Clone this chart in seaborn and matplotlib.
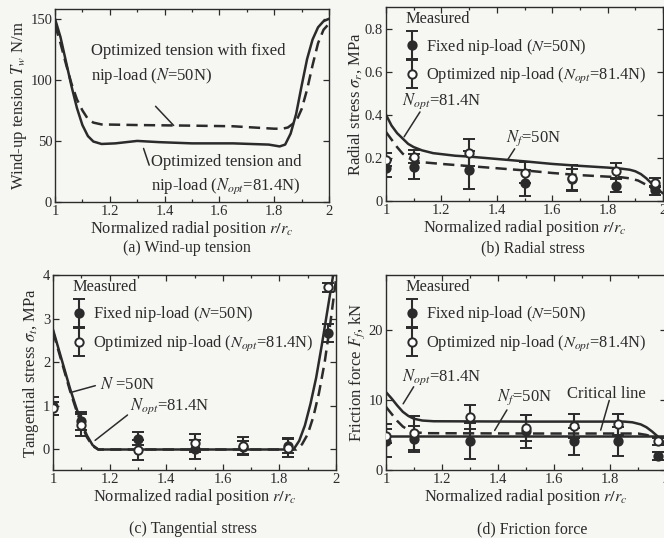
import numpy as np
import pandas as pd
import matplotlib
matplotlib.use("Agg")
import matplotlib.pyplot as plt
import seaborn as sns
from matplotlib.container import ErrorbarContainer
from matplotlib.legend_handler import HandlerErrorbar

# ---------------- data ----------------
# (a) wind-up tension, N/m
a_x_opt = [1.00, 1.02, 1.04, 1.06, 1.08, 1.10, 1.12, 1.14, 1.17, 1.22, 1.30, 1.38, 1.50,
           1.65, 1.78, 1.82, 1.84, 1.86, 1.88, 1.90, 1.92, 1.94, 1.96, 1.98, 2.00]
a_y_opt = [150, 135, 115, 95, 77, 63, 54, 49.5, 47.5, 48, 50, 49, 48,
           48, 47, 45.5, 47, 56, 72, 95, 117, 133, 143, 148, 150]
a_x_fix = [1.00, 1.02, 1.04, 1.06, 1.08, 1.10, 1.12, 1.14, 1.17, 1.30, 1.50, 1.65, 1.80,
           1.83, 1.85, 1.88, 1.90, 1.92, 1.94, 1.96, 1.98, 2.00]
a_y_fix = [145, 130, 113, 97, 84, 75, 68, 65, 63.5, 63, 62.5, 62, 60,
           60, 61, 66, 76, 92, 112, 130, 141, 146]

# (b) radial stress, MPa
b_x_opt = [1.00, 1.02, 1.04, 1.06, 1.08, 1.10, 1.13, 1.17, 1.25, 1.30, 1.40, 1.50, 1.60,
           1.70, 1.80, 1.85, 1.88, 1.90, 1.92, 1.94, 1.96, 1.98, 2.00]
b_y_opt = [0.40, 0.35, 0.315, 0.29, 0.265, 0.25, 0.235, 0.222, 0.21, 0.206, 0.195, 0.184, 0.172,
           0.163, 0.155, 0.150, 0.145, 0.138, 0.125, 0.105, 0.08, 0.055, 0.035]
b_x_fix = [1.00, 1.02, 1.04, 1.06, 1.08, 1.10, 1.13, 1.20, 1.30, 1.40, 1.50, 1.60, 1.70,
           1.80, 1.85, 1.88, 1.91, 1.94, 1.97, 2.00]
b_y_fix = [0.32, 0.285, 0.25, 0.22, 0.20, 0.19, 0.18, 0.172, 0.162, 0.152, 0.142, 0.13, 0.12,
           0.113, 0.11, 0.105, 0.095, 0.075, 0.05, 0.03]

# (c) tangential stress, MPa
c_x_opt = [1.00, 1.02, 1.04, 1.06, 1.08, 1.10, 1.12, 1.14, 1.16, 1.85, 1.87, 1.89, 1.91,
           1.93, 1.95, 1.97, 1.99, 2.00]
c_y_opt = [2.75, 2.3, 1.85, 1.4, 1.0, 0.62, 0.32, 0.1, 0.0, 0.0, 0.2, 0.55, 1.05,
           1.65, 2.4, 3.2, 4.0, 4.4]
c_x_fix = [1.00, 1.02, 1.04, 1.06, 1.08, 1.10, 1.12, 1.14, 1.16, 1.86, 1.88, 1.90, 1.92,
           1.94, 1.96, 1.98, 2.00]
c_y_fix = [2.7, 2.25, 1.8, 1.35, 0.95, 0.58, 0.28, 0.08, 0.0, 0.0, 0.12, 0.35, 0.75,
           1.3, 2.0, 2.9, 3.9]

# (d) friction force, kN
d_x_opt = [1.00, 1.02, 1.04, 1.06, 1.08, 1.10, 1.13, 1.17, 1.50, 1.85, 1.88, 1.91, 1.93,
           1.95, 1.97, 1.99, 2.00]
d_y_opt = [11.1, 10.2, 9.2, 8.3, 7.7, 7.3, 7.05, 6.95, 6.9, 6.9, 6.8, 6.5, 6.1,
           5.5, 4.8, 4.0, 3.6]
d_x_fix = [1.00, 1.02, 1.04, 1.06, 1.08, 1.10, 1.14, 1.50, 1.90, 1.93, 1.96, 1.98, 2.00]
d_y_fix = [9.0, 8.0, 7.0, 6.2, 5.7, 5.4, 5.25, 5.2, 5.2, 5.0, 4.6, 4.2, 3.8]
critical_force = 4.9

# measured points (same radial positions in b, c, d)
meas_r = [1.0, 1.1, 1.3, 1.5, 1.67, 1.83, 1.97]
b_fix_mean = [0.152, 0.16, 0.144, 0.082, 0.10, 0.07, 0.05]
b_fix_err = [0.04, 0.06, 0.09, 0.06, 0.05, 0.03, 0.02]
b_opt_mean = [0.191, 0.206, 0.225, 0.132, 0.106, 0.141, 0.085]
b_opt_err = [0.03, 0.03, 0.062, 0.05, 0.06, 0.035, 0.02]
c_fix_mean = [1.0, 0.65, 0.25, 0.0, 0.05, 0.08, 2.67]
c_fix_err = [0.2, 0.2, 0.15, 0.22, 0.15, 0.15, 0.2]
c_opt_mean = [0.94, 0.56, -0.02, 0.15, 0.08, 0.04, 3.72]
c_opt_err = [0.15, 0.25, 0.23, 0.2, 0.2, 0.22, 0.1]
d_fix_mean = [4.2, 4.4, 4.1, 5.5, 4.1, 4.1, 2.0]
d_fix_err = [2.4, 1.9, 2.6, 2.4, 1.9, 2.1, 0.6]
d_opt_mean = [4.9, 5.3, 7.5, 6.0, 6.3, 6.5, 4.1]
d_opt_err = [1.0, 2.4, 1.7, 1.8, 1.7, 1.5, 0.5]

x_ticks = [1, 1.2, 1.4, 1.6, 1.8, 2]
x_ticklabels = ["1", "1.2", "1.4", "1.6", "1.8", "2"]

# ---------------- style ----------------
sns.set_theme(style="ticks")
INK = "#2b2b2b"
BG = "#f6f6f3"
plt.rcParams.update({
    "font.family": ["Liberation Serif", "DejaVu Serif"],
    "mathtext.fontset": "stix",
    "text.color": INK,
    "axes.labelcolor": INK,
    "axes.edgecolor": INK,
    "xtick.color": INK,
    "ytick.color": INK,
    "axes.linewidth": 1.0,
    "axes.facecolor": BG,
    "figure.facecolor": BG,
})

W, H = 664, 538
fig = plt.figure(figsize=(W / 100, H / 100), dpi=100)
ANN_FS = 12
LEG_FS = 11.8


def px_axes(l, t, r, b):
    return fig.add_axes([l / W, 1 - b / H, (r - l) / W, (b - t) / H])


def style_axes(ax, ylim, yticks, yticklabels):
    ax.set_xlim(1, 2)
    ax.set_ylim(*ylim)
    ax.set_xticks(x_ticks)
    ax.set_xticklabels(x_ticklabels)
    ax.set_xticks(np.arange(1.1, 2.0, 0.2), minor=True)
    ax.set_yticks(yticks)
    ax.set_yticklabels(yticklabels)
    ax.tick_params(which="both", direction="in", top=True, right=True,
                   labelsize=10.5, pad=2, width=0.9)
    ax.tick_params(which="major", length=4)
    ax.tick_params(which="minor", length=2.5)
    ax.set_xlabel(r"Normalized radial position $r/r_c$", fontsize=11.8, labelpad=1)
    for s in ax.spines.values():
        s.set_linewidth(1.0)


def curves(ax, xo, yo, xf, yf):
    df = pd.concat([
        pd.DataFrame({"r": xo, "v": yo, "case": "opt"}),
        pd.DataFrame({"r": xf, "v": yf, "case": "fixed"}),
    ])
    sns.lineplot(data=df, x="r", y="v", style="case", style_order=["opt", "fixed"],
                 dashes={"opt": "", "fixed": (4.5, 2.5)}, color=INK, linewidth=1.8,
                 legend=False, ax=ax, estimator=None, sort=False)
    ax.set_xlabel("")
    ax.set_ylabel("")


def measured(ax, fix_m, fix_e, opt_m, opt_e):
    kw = dict(fmt="o", ms=6, ecolor=INK, elinewidth=1.5, capsize=4.5,
              capthick=1.5, mec=INK, mew=1.4, zorder=4)
    eb_f = ax.errorbar(meas_r, fix_m, yerr=fix_e, mfc=INK, **kw)
    eb_o = ax.errorbar(meas_r, opt_m, yerr=opt_e, mfc="white", **kw)
    ax.legend([eb_f, eb_o],
              [r"Fixed nip-load ($N$=50N)", r"Optimized nip-load ($N_{opt}$=81.4N)"],
              title="Measured", loc="upper left", bbox_to_anchor=(0.035, 1.03),
              frameon=False, alignment="left", fontsize=LEG_FS, title_fontsize=LEG_FS,
              handlelength=0.8, handletextpad=0.45, labelspacing=0.58,
              borderaxespad=0.2,
              handler_map={ErrorbarContainer: HandlerErrorbar(yerr_size=0.85)})


def leader(ax, text, xy_text, xy_from, xy_to, fs=ANN_FS, ha="left"):
    ax.text(*xy_text, text, fontsize=fs, ha=ha, va="center", color=INK)
    ax.annotate("", xy=xy_to, xytext=xy_from,
                arrowprops=dict(arrowstyle="-", color=INK, lw=1.1))


# ---------------- (a) ----------------
ax_a = px_axes(55, 9, 329, 202)
curves(ax_a, a_x_opt, a_y_opt, a_x_fix, a_y_fix)
style_axes(ax_a, (0, 158), [0, 50, 100, 150], ["0", "50", "100", "150"])
ax_a.set_ylabel(r"Wind-up tension $T_w$ N/m", fontsize=12, labelpad=1)
ax_a.text(1.13, 130, "Optimized tension with fixed\nnip-load ($N$=50N)",
          fontsize=ANN_FS, va="top", linespacing=1.45)
ax_a.annotate("", xy=(1.44, 61), xytext=(1.36, 80),
              arrowprops=dict(arrowstyle="-", color=INK, lw=1.1))
ax_a.text(1.352, 39, "Optimized tension and\nnip-load ($N_{opt}$=81.4N)",
          fontsize=ANN_FS, va="top", linespacing=1.45)
ax_a.annotate("", xy=(1.32, 46), xytext=(1.347, 28),
              arrowprops=dict(arrowstyle="-", color=INK, lw=1.1))

# ---------------- (b) ----------------
ax_b = px_axes(386, 7, 663, 201)
curves(ax_b, b_x_opt, b_y_opt, b_x_fix, b_y_fix)
measured(ax_b, b_fix_mean, b_fix_err, b_opt_mean, b_opt_err)
style_axes(ax_b, (0, 0.9), [0, 0.2, 0.4, 0.6, 0.8], ["0", "0.2", "0.4", "0.6", "0.8"])
ax_b.set_ylabel(r"Radial stress $\sigma_r$, MPa", fontsize=12, labelpad=1)
leader(ax_b, r"$N_{opt}$=81.4N", (1.057, 0.465), (1.128, 0.424), (1.06, 0.287))
leader(ax_b, r"$N_f$=50N", (1.435, 0.292), (1.47, 0.253), (1.435, 0.183))

# ---------------- (c) ----------------
ax_c = px_axes(53, 275, 336, 470)
curves(ax_c, c_x_opt, c_y_opt, c_x_fix, c_y_fix)
measured(ax_c, c_fix_mean, c_fix_err, c_opt_mean, c_opt_err)
style_axes(ax_c, (-0.47, 4.0), [0, 1, 2, 3, 4], ["0", "1", "2", "3", "4"])
ax_c.set_ylabel(r"Tangential stress $\sigma_t$, MPa", fontsize=12, labelpad=1)
leader(ax_c, r"$N$ =50N", (1.165, 1.48), (1.159, 1.48), (1.053, 1.29))
leader(ax_c, r"$N_{opt}$=81.4N", (1.271, 1.0), (1.271, 0.83), (1.141, 0.17))

# ---------------- (d) ----------------
ax_d = px_axes(386, 275, 666, 470)
curves(ax_d, d_x_opt, d_y_opt, d_x_fix, d_y_fix)
ax_d.axhline(critical_force, color=INK, lw=1.8, zorder=2)
measured(ax_d, d_fix_mean, d_fix_err, d_opt_mean, d_opt_err)
style_axes(ax_d, (0, 27.8), [0, 10, 20], ["0", "10", "20"])
ax_d.set_ylabel(r"Friction force $F_f$, kN", fontsize=12, labelpad=1)
leader(ax_d, r"$N_{opt}$=81.4N", (1.056, 13.3), (1.104, 12.2), (1.056, 9.1))
leader(ax_d, r"$N_f$=50N", (1.395, 10.4), (1.437, 8.9), (1.383, 5.3))
leader(ax_d, "Critical line", (1.645, 10.9), (1.80, 10.3), (1.764, 5.3))

# ---------------- captions ----------------
for x, y, s in [(187, 248, "(a) Wind-up tension"), (533, 248, "(b) Radial stress"),
                (193, 529, "(c) Tangential stress"), (532, 529, "(d) Friction force")]:
    fig.text(x / W, 1 - y / H, s, ha="center", va="center", fontsize=11.5, color=INK)

fig.savefig("out.png", dpi=100, facecolor=BG)
